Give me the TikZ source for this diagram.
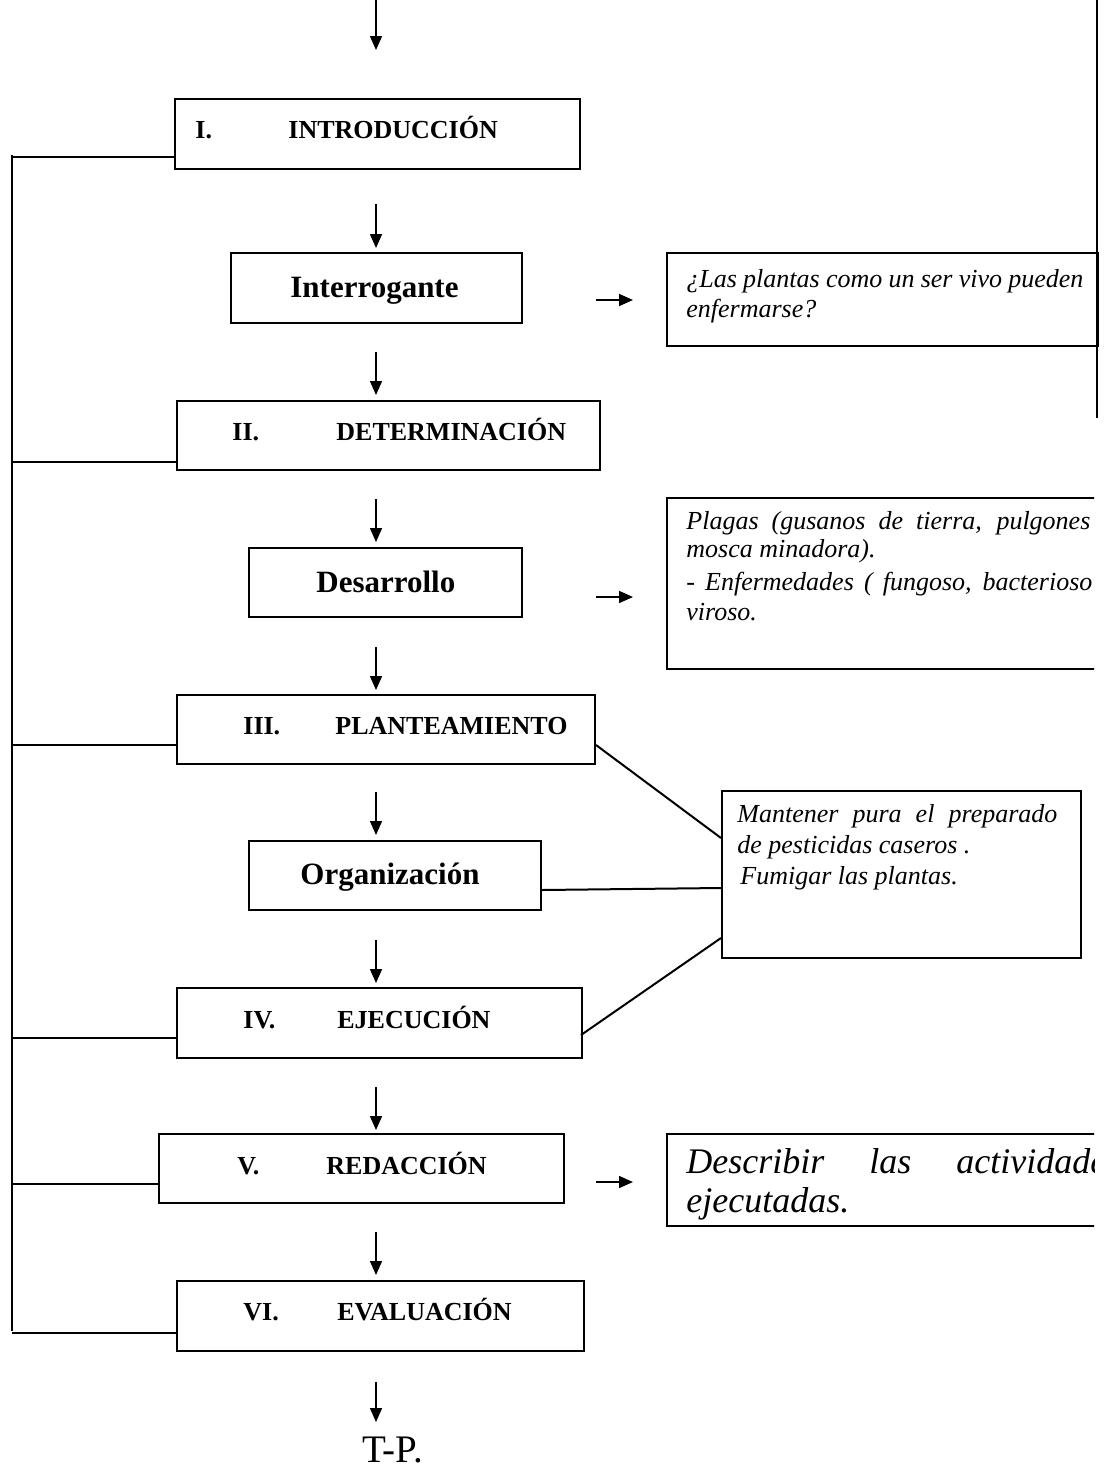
\documentclass[tikz,border=0pt]{standalone}
\usepackage{fontspec}
\setmainfont{Liberation Serif}
\usetikzlibrary{arrows.meta,calc}
\begin{document}
\begin{tikzpicture}[x=0.5pt,y=-0.5pt,
  box/.style={draw,line width=1pt,rectangle,anchor=north west,inner sep=0},
  lbl/.style={inner sep=0,anchor=base west},
  head/.style={lbl,font=\fontsize{13}{15}\selectfont\bfseries},
  sub/.style={lbl,font=\fontsize{15.5}{18}\selectfont\bfseries},
  note/.style={lbl,font=\fontsize{13}{15}\selectfont\itshape},
  bignote/.style={lbl,font=\fontsize{18}{21}\selectfont\itshape},
  arr/.style={line width=0.8pt,-{Triangle[length=7pt,width=6pt]}},
  conn/.style={line width=1pt}]
\useasboundingbox (0,0) rectangle (1115,1473);

% main column of boxes
\node[box,minimum width=202.5pt,minimum height=35pt] (intro) at (174,98) {};
\node[box,minimum width=145.5pt,minimum height=35pt] (interr) at (230,252) {};
\node[box,minimum width=211.5pt,minimum height=34.5pt] (deter) at (176,400) {};
\node[box,minimum width=136.5pt,minimum height=34.5pt] (desarr) at (248,547) {};
\node[box,minimum width=209pt,minimum height=34.5pt] (plant) at (176,694) {};
\node[box,minimum width=146pt,minimum height=34.5pt] (organ) at (248,840) {};
\node[box,minimum width=202.5pt,minimum height=35pt] (ejec) at (176,987) {};
\node[box,minimum width=202.5pt,minimum height=34.5pt] (redac) at (158,1133) {};
\node[box,minimum width=203.5pt,minimum height=35pt] (eval) at (176,1280) {};

% box titles
\node[head] (tI) at (195,138) {I.};
\node[head] (tIntro) at (288,138) {INTRODUCCIÓN};
\node[sub] (tInterr) at (290,297) {Interrogante};
\node[head] (tII) at (232,440) {II.};
\node[head] (tDeter) at (336,440) {DETERMINACIÓN};
\node[sub] (tDesarr) at (316,592) {Desarrollo};
\node[head] (tIII) at (243,734) {III.};
\node[head] (tPlant) at (335,734) {PLANTEAMIENTO};
\node[sub] (tOrgan) at (300,884) {Organización};
\node[head] (tIV) at (243,1028) {IV.};
\node[head] (tEjec) at (337,1028) {EJECUCIÓN};
\node[head] (tV) at (237,1174) {V.};
\node[head] (tRedac) at (326,1174) {REDACCIÓN};
\node[head] (tVI) at (243,1320) {VI.};
\node[head] (tEval) at (337,1320) {EVALUACIÓN};
\node[lbl,font=\fontsize{19.5}{22}\selectfont] (tp) at (362,1462) {T-P.};

% side notes
\node[box,minimum width=215.5pt,minimum height=46.5pt] (quest) at (666,252) {};
\node[note] (q1) at (686,287) {\makebox[198.5pt][s]{¿Las plantas como un ser vivo pueden}};
\node[note] (q2) at (686,317) {enfermarse?};

\node[box,minimum width=179.5pt,minimum height=83.5pt] (mant) at (721,790) {};
\node[note] (m1) at (737,822) {\makebox[160pt][s]{Mantener pura el preparado}};
\node[note] (m2) at (737,853) {de pesticidas caseros .};
\node[note] (m3) at (740,884) {Fumigar las plantas.};

\begin{scope}
  \clip (0,0) rectangle (1094,1473);
  \node[box,minimum width=240pt,minimum height=85.5pt] (plagas) at (666,497) {};
  \node[note] (p1) at (686,529) {\makebox[202pt][s]{Plagas (gusanos de tierra, pulgones}};
  \node[note] (p2) at (686,557) {mosca minadora).};
  \node[note] (p3) at (686,590) {\makebox[203pt][s]{- Enfermedades ( fungoso, bacterioso}};
  \node[note] (p4) at (686,620) {viroso.};
  \node[box,minimum width=240pt,minimum height=46pt] (descr) at (666,1133) {};
  \node[bignote] (d1) at (686,1173) {\makebox[217pt][s]{Describir las actividades}};
  \node[bignote] (d2) at (686,1212) {ejecutadas.};
\end{scope}

% right margin rule
\coordinate (rt) at (1097,0);
\coordinate (rb) at (1097,418);
\draw[conn] (rt) -- (rb);

% vertical flow arrows
\coordinate (ax) at (376,0);
\draw[arr,shorten >=24pt] (ax) -- (intro.north -| ax);
\draw[arr,shorten <=17pt,shorten >=2pt] (intro.south -| ax) -- (interr.north -| ax);
\draw[arr,shorten <=14pt,shorten >=2.5pt] (interr.south -| ax) -- (deter.north -| ax);
\draw[arr,shorten <=14pt,shorten >=2.5pt] (deter.south -| ax) -- (desarr.north -| ax);
\draw[arr,shorten <=14.5pt,shorten >=2pt] (desarr.south -| ax) -- (plant.north -| ax);
\draw[arr,shorten <=13.5pt,shorten >=2.5pt] (plant.south -| ax) -- (organ.north -| ax);
\draw[arr,shorten <=14.5pt,shorten >=2pt] (organ.south -| ax) -- (ejec.north -| ax);
\draw[arr,shorten <=14pt,shorten >=1.5pt] (ejec.south -| ax) -- (redac.north -| ax);
\draw[arr,shorten <=14pt,shorten >=2.5pt] (redac.south -| ax) -- (eval.north -| ax);
\draw[arr,shorten <=15pt,shorten >=20pt] (eval.south -| ax) -- (tp.base -| ax);

% arrows towards the side notes
\coordinate (ya) at (0,300);
\coordinate (yb) at (0,597);
\coordinate (yc) at (0,1182);
\draw[arr,shorten <=36.5pt,shorten >=16.5pt] (interr.east |- ya) -- (quest.west |- ya);
\draw[arr,shorten <=36.5pt,shorten >=16.5pt] (desarr.east |- yb) -- (plagas.west |- yb);
\draw[arr,shorten <=15.5pt,shorten >=16.5pt] (redac.east |- yc) -- (descr.west |- yc);

% links into the "Mantener" note
\draw[conn] ($(plant.south east)+(0,10pt)$) -- ($(mant.north west)+(0,-24pt)$);
\draw[conn] ($(organ.south east)+(0,10.5pt)$) -- ($(mant.north west)+(0,-49pt)$);
\draw[conn] ($(ejec.south east)+(-1pt,12pt)$) -- ($(mant.north west)+(0,-74pt)$);

% left bus joining the main stages
\coordinate (busT) at (12,155);
\coordinate (busB) at (12,1331);
\draw[line width=1.2pt] (busT) -- (busB);
\coordinate (lI) at ($(intro.south west)+(0,6.5pt)$);
\coordinate (lII) at ($(deter.south west)+(0,4.5pt)$);
\coordinate (lIII) at ($(plant.south west)+(0,10pt)$);
\coordinate (lIV) at ($(ejec.south west)+(0,10.5pt)$);
\coordinate (lV) at ($(redac.south west)+(0,10pt)$);
\coordinate (lVI) at ($(eval.south west)+(0,9.5pt)$);
\foreach \p in {lI,lII,lIII,lIV,lV,lVI}
  \draw[conn] (\p) -- (\p -| busT);
\end{tikzpicture}
\end{document}
